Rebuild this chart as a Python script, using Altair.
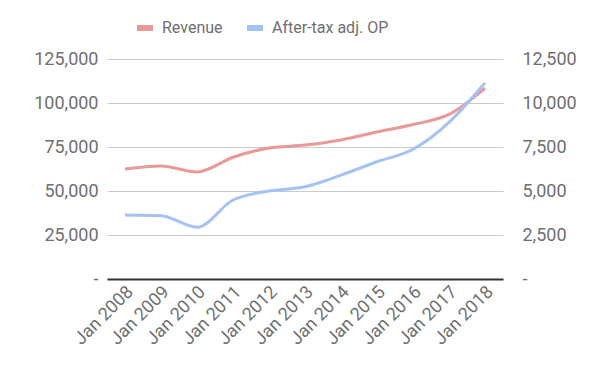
import altair as alt
import pandas as pd

years = ["Jan 2008", "Jan 2009", "Jan 2010", "Jan 2011", "Jan 2012", "Jan 2013",
         "Jan 2014", "Jan 2015", "Jan 2016", "Jan 2017", "Jan 2018"]
revenue = [62500, 64200, 60800, 69200, 74400, 76100, 79000, 83500, 87800, 93500, 108500]
op = [3640, 3600, 2940, 4490, 5000, 5240, 5900, 6660, 7370, 8900, 11150]
left_ticks = [0, 25000, 50000, 75000, 100000, 125000]
right_ticks = [0, 2500, 5000, 7500, 10000, 12500]
series = ["Revenue", "After-tax adj. OP"]
colors = ["#ea9999", "#a4c2f4"]

df = pd.DataFrame({"year": years, "revenue": revenue, "op": op,
                   "s1": series[0], "s2": series[1]})

FONT = "Roboto"
LBL = "#6f6f6f"

x = alt.X("year:O", sort=years, title=None,
          scale=alt.Scale(type="point", padding=0.5),
          axis=alt.Axis(labelAngle=-45, labelAlign="right", labelBaseline="middle",
                        labelPadding=10, labelOffset=5, ticks=False, domainColor="#333333",
                        domainWidth=2, labelFontSize=18, labelColor=LBL, labelFont=FONT,
                        grid=False))

legend = alt.Legend(title=None, orient="none", direction="horizontal",
                    legendX=27, legendY=-42, symbolType="stroke",
                    symbolSize=256, symbolStrokeWidth=6,
                    labelFontSize=16, labelColor=LBL, labelFont=FONT,
                    labelOffset=6, columnPadding=12)
cscale = alt.Scale(domain=series, range=colors)

left = alt.Chart(df).mark_line(interpolate="monotone", strokeWidth=3).encode(
    x=x,
    y=alt.Y("revenue:Q", title=None,
            scale=alt.Scale(domain=[0, 125000], nice=False),
            axis=alt.Axis(values=left_ticks, orient="left", domain=False, ticks=False,
                          labelPadding=9, gridColor="#cccccc", labelFontSize=18,
                          labelColor=LBL, labelFont=FONT,
                          labelExpr="datum.value == 0 ? '-' : format(datum.value, ',')")),
    color=alt.Color("s1:N", scale=cscale, legend=legend),
)

right = alt.Chart(df).mark_line(interpolate="monotone", strokeWidth=3).encode(
    x=x,
    y=alt.Y("op:Q", title=None,
            scale=alt.Scale(domain=[0, 12500], nice=False),
            axis=alt.Axis(values=right_ticks, orient="right", domain=False, ticks=False,
                          grid=False, labelPadding=19, labelFontSize=18,
                          labelColor=LBL, labelFont=FONT,
                          labelExpr="datum.value == 0 ? '-' : format(datum.value, ',')")),
    color=alt.Color("s2:N", scale=cscale, legend=legend),
)

chart = alt.layer(left, right).resolve_scale(y="independent").properties(
    width=396, height=220,
    autosize=alt.AutoSizeParams(type="none"),
    padding={"left": 99, "top": 51, "right": 80, "bottom": 83},
).configure_view(stroke=None)

chart.save("out.html", embed_options={"renderer": "svg", "actions": False})
